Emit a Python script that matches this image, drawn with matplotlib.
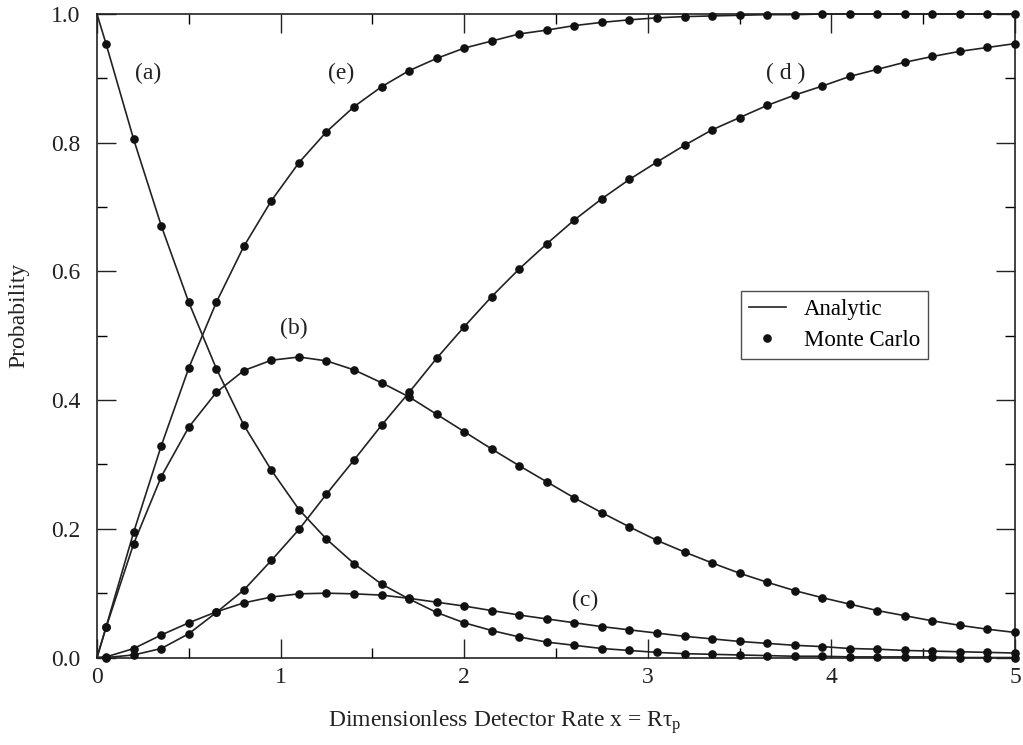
import matplotlib
matplotlib.use("Agg")
import matplotlib.pyplot as plt
from matplotlib.lines import Line2D
from matplotlib.ticker import MultipleLocator, FixedLocator

plt.rcParams['font.family'] = ['Liberation Serif', 'DejaVu Serif']
plt.rcParams['mathtext.fontset'] = 'custom'
plt.rcParams['mathtext.rm'] = 'Liberation Serif'
plt.rcParams['mathtext.it'] = 'Liberation Serif:italic'

# Monte Carlo sample positions
x_mc = [0.05, 0.20, 0.35, 0.50, 0.65, 0.80, 0.95, 1.10, 1.25, 1.40, 1.55, 1.70,
        1.85, 2.00, 2.15, 2.30, 2.45, 2.60, 2.75, 2.90, 3.05, 3.20, 3.35, 3.50,
        3.65, 3.80, 3.95, 4.10, 4.25, 4.40, 4.55, 4.70, 4.85, 5.00]

curve_a = [0.953, 0.805, 0.671, 0.552, 0.449, 0.361, 0.291, 0.230, 0.184, 0.146, 0.114, 0.091,
           0.070, 0.054, 0.042, 0.032, 0.024, 0.019, 0.014, 0.011, 0.008, 0.006, 0.005, 0.004,
           0.003, 0.002, 0.002, 0.001, 0.001, 0.001, 0.001, 0.000, 0.000, 0.000]
curve_b = [0.047, 0.177, 0.281, 0.358, 0.412, 0.446, 0.462, 0.467, 0.461, 0.447, 0.427, 0.405,
           0.378, 0.351, 0.324, 0.298, 0.273, 0.248, 0.225, 0.203, 0.182, 0.164, 0.147, 0.131,
           0.117, 0.104, 0.093, 0.083, 0.073, 0.065, 0.057, 0.050, 0.044, 0.039]
curve_c = [0.001, 0.014, 0.035, 0.054, 0.071, 0.085, 0.094, 0.099, 0.100, 0.099, 0.097, 0.092,
           0.086, 0.080, 0.073, 0.066, 0.060, 0.054, 0.048, 0.043, 0.038, 0.033, 0.029, 0.025,
           0.022, 0.019, 0.017, 0.014, 0.013, 0.011, 0.010, 0.009, 0.008, 0.007]
curve_d = [0.000, 0.004, 0.014, 0.037, 0.070, 0.105, 0.151, 0.199, 0.254, 0.307, 0.361, 0.412,
           0.465, 0.514, 0.561, 0.604, 0.643, 0.680, 0.713, 0.743, 0.770, 0.796, 0.820, 0.839,
           0.858, 0.874, 0.888, 0.903, 0.914, 0.925, 0.934, 0.942, 0.948, 0.954]
curve_e = [0.048, 0.195, 0.329, 0.450, 0.552, 0.639, 0.710, 0.769, 0.817, 0.856, 0.887, 0.912,
           0.931, 0.947, 0.958, 0.969, 0.975, 0.982, 0.987, 0.991, 0.994, 0.996, 0.997, 0.998,
           0.999, 0.999, 1.000, 1.000, 1.000, 1.000, 1.000, 1.000, 1.000, 1.000]

# analytic value of each curve at x = 0
start_x = 0.0
start_vals = {'a': 1.0, 'b': 0.0, 'c': 0.0, 'd': 0.0, 'e': 0.0}

curves = {'a': curve_a, 'b': curve_b, 'c': curve_c, 'd': curve_d, 'e': curve_e}

labels = ['(a)', '(b)', '(c)', '( d )', '(e)']
label_x = [0.28, 1.07, 2.66, 3.75, 1.33]
label_y = [0.908, 0.511, 0.088, 0.908, 0.908]

xticks = [0, 1, 2, 3, 4, 5]
yticks = [0.0, 0.2, 0.4, 0.6, 0.8, 1.0]

FS = 17

fig = plt.figure(figsize=(10.23, 7.45), dpi=100)
ax = fig.add_axes([0.0948, 0.1174, 0.8974, 0.8638])

for key, vals in curves.items():
    ax.plot([start_x] + x_mc, [start_vals[key]] + vals, color='#222222', lw=1.2,
            zorder=2, clip_on=False)
    ax.plot(x_mc, vals, 'o', color='#111111', ms=5.2, zorder=3, clip_on=False)

for t, lx, ly in zip(labels, label_x, label_y):
    ax.text(lx, ly, t, fontsize=FS, ha='center', va='center', color='#222222')

ax.set_xlim(0, 5)
ax.set_ylim(0, 1)
ax.set_xticks(xticks)
ax.set_xticklabels([str(v) for v in xticks])
ax.xaxis.set_minor_locator(MultipleLocator(0.5))
ax.set_yticks(yticks)
ax.set_yticklabels(['%.1f' % v for v in yticks])
ax.yaxis.set_minor_locator(FixedLocator([0.1, 0.3, 0.5, 0.7, 0.9]))

ax.tick_params(axis='both', which='major', direction='in', length=14, width=1.0,
               top=True, right=True, labelsize=FS, colors='#222222')
ax.tick_params(axis='both', which='minor', direction='in', length=7.5, width=1.0,
               top=True, bottom=True, left=True, right=True)
ax.tick_params(axis='x', which='major', pad=7)
ax.tick_params(axis='y', which='major', pad=12)
for s in ax.spines.values():
    s.set_linewidth(1.2)
    s.set_color('#222222')

ax.set_xlabel('Dimensionless Detector Rate x = Rτ$_\\mathrm{p}$', fontsize=FS,
              color='#222222', va='center')
ax.xaxis.set_label_coords(0.444, -0.100)
ax.set_ylabel('Probability', fontsize=FS, color='#222222', va='center')
ax.yaxis.set_label_coords(-0.085, 0.531)

handles = [Line2D([0], [0], color='#222222', lw=1.2),
           Line2D([0], [0], marker='o', ls='none', color='#111111', ms=5.2)]
leg = ax.legend(handles, ['Analytic', 'Monte Carlo'], loc='upper left',
                bbox_to_anchor=(0.7015, 0.5695), fontsize=16.5, frameon=True,
                fancybox=False, edgecolor='#222222', handlelength=1.6,
                handletextpad=0.8, borderpad=0.35, labelspacing=0.45,
                borderaxespad=0.0)
leg.get_frame().set_linewidth(1.0)

fig.savefig('out.png', dpi=100, facecolor='white')
